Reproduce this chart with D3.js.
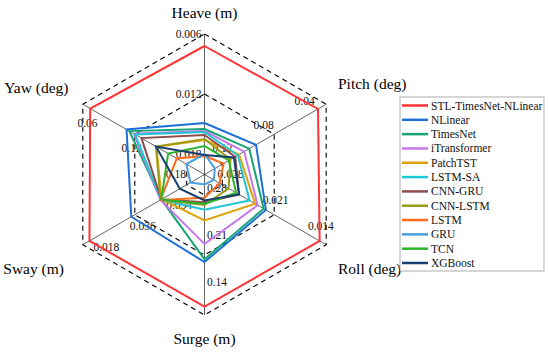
<!DOCTYPE html>
<html>
<head>
<meta charset="utf-8">
<script src="https://cdn.jsdelivr.net/npm/d3@7"></script>
<style>
  html, body { margin: 0; padding: 0; background: #fff; }
  svg text { font-family: "Liberation Serif", "Times New Roman", "DejaVu Serif", serif; }
</style>
</head>
<body>
<svg id="chart" width="550" height="354"></svg>
<script>
// Ejes del radar (sentido horario desde arriba)
const axisNames = ["Heave (m)", "Pitch (deg)", "Roll (deg)", "Surge (m)", "Sway (m)", "Yaw (deg)"];
// Marcas de cada eje: de fuera hacia dentro (escala invertida)
const axisTicks = [
  [0.006, 0.012, 0.018],
  [0.04, 0.08, 0.12],
  [0.014, 0.021, 0.028],
  [0.14, 0.21, 0.28],
  [0.018, 0.036, 0.054],
  [0.06, 0.12, 0.18]
];
const tickLabels = [
  ["0.006", "0.012", "0.018"],
  ["0.04", "0.08", "0.12"],
  ["0.014", "0.021", "0.028"],
  ["0.14", "0.21", "0.28"],
  ["0.018", "0.036", "0.054"],
  ["0.06", "0.12", "0.18"]
];

// Modelos (orden de la leyenda)
const models = ["STL-TimesNet-NLinear", "NLinear", "TimesNet", "iTransformer", "PatchTST", "LSTM-SA",
  "CNN-GRU", "CNN-LSTM", "LSTM", "GRU", "TCN", "XGBoost"];
const modelColors = ["#ff3333", "#1f6fd8", "#17a673", "#c678e8", "#e0a10b", "#1fc6d4",
  "#8e4c4c", "#9c9c15", "#ff6a1a", "#4b9fe0", "#2bb52b", "#173e70"];

// Errores por eje: Heave, Pitch, Roll, Surge, Sway, Yaw
const errSTL          = [0.0072, 0.0463, 0.01488, 0.1497, 0.0203, 0.0685];
const errNLinear      = [0.0149, 0.0940, 0.02212, 0.2018, 0.0348, 0.1105];
const errTimesNet     = [0.0155, 0.0992, 0.02242, 0.2050, 0.0452, 0.1137];
const errITransformer = [0.0157, 0.1031, 0.02323, 0.2229, 0.0449, 0.1189];
const errPatchTST     = [0.0166, 0.1070, 0.02357, 0.2503, 0.0453, 0.1450];
const errLSTMSA       = [0.0158, 0.1080, 0.02432, 0.2627, 0.0451, 0.1205];
const errCNNGRU       = [0.0161, 0.1100, 0.02574, 0.2715, 0.0452, 0.1277];
const errCNNLSTM      = [0.0165, 0.1137, 0.02715, 0.2683, 0.0449, 0.1445];
const errLSTM         = [0.0182, 0.1190, 0.02836, 0.2767, 0.0449, 0.1685];
const errGRU          = [0.0180, 0.1257, 0.02914, 0.2923, 0.0553, 0.1795];
const errTCN          = [0.0172, 0.1150, 0.02613, 0.2695, 0.0452, 0.1585];
const errXGBoost      = [0.0181, 0.1110, 0.02574, 0.2737, 0.0516, 0.1445];
const seriesValues = [errSTL, errNLinear, errTimesNet, errITransformer, errPatchTST, errLSTMSA,
  errCNNGRU, errCNNLSTM, errLSTM, errGRU, errTCN, errXGBoost];

// Geometria
const cx = 204.5, cy = 174.5;
const R_OUT = 140.5, R_IN = 20.5;
const angles = [90, 30, -30, -90, -150, 150].map(a => a * Math.PI / 180);
const FONT = "'Liberation Serif', 'Times New Roman', 'DejaVu Serif', serif";

// Colocacion de las etiquetas de las marcas (como en la figura original)
const tickLabelStyle = [
  {f: 1.0,   dx: -3,    dy: 0,    anchor: "end"},
  {f: 0.79,  dx: 4,     dy: -18,  anchor: "middle"},
  {f: 0.87,  dx: 10.5,  dy: -9.5, anchor: "middle"},
  {f: 0.783, dx: 12.5,  dy: -2.5, anchor: "middle"},
  {f: 0.70,  dx: -13,   dy: 23.6, anchor: "middle"},
  {f: 0.85,  dx: -13.6, dy: 8,    anchor: "middle"}
];
const titleStyle = [
  {x: 0, y: -162.5, anchor: "middle"},
  {x: 133.5, y: -91.5, anchor: "start"},
  {x: 133.5, y: 93.5, anchor: "start"},
  {x: 0, y: 163.5, anchor: "middle"},
  {x: -140.5, y: 93.5, anchor: "end"},
  {x: -136, y: -87.5, anchor: "end"}
];

const svg = d3.select("#chart");
svg.append("rect").attr("width", 550).attr("height", 354).attr("fill", "#fff");
const g = svg.append("g").attr("transform", `translate(${cx},${cy})`);

// Una escala radial por eje
const rScales = axisTicks.map(t => d3.scaleLinear().domain([t[0], t[2]]).range([R_OUT, R_IN]));

const pt = (i, r) => [r * Math.cos(angles[i]), -r * Math.sin(angles[i])];
const lineGen = d3.line().curve(d3.curveLinearClosed);

// Radios
g.selectAll("line.spoke").data(axisNames).join("line")
  .attr("class", "spoke")
  .attr("x1", 0).attr("y1", 0)
  .attr("x2", (d, i) => pt(i, R_OUT)[0])
  .attr("y2", (d, i) => pt(i, R_OUT)[1])
  .attr("stroke", "#222").attr("stroke-width", 0.7);

// Hexagonos discontinuos en cada marca
[0, 1, 2].forEach(k => {
  const poly = axisNames.map((d, i) => pt(i, rScales[i](axisTicks[i][k])));
  g.append("path")
    .attr("d", lineGen(poly))
    .attr("fill", "none")
    .attr("stroke", "#000")
    .attr("stroke-width", 1.1)
    .attr("stroke-dasharray", "5,4");
});

// Etiquetas de las marcas (debajo de las series)
axisTicks.forEach((ticks, i) => {
  const st = tickLabelStyle[i];
  ticks.forEach((t, k) => {
    const p = pt(i, rScales[i](t) * st.f);
    g.append("text")
      .attr("x", p[0] + st.dx)
      .attr("y", p[1] + st.dy)
      .attr("text-anchor", st.anchor)
      .attr("dominant-baseline", "central")
      .attr("font-family", FONT)
      .attr("font-size", 11.5)
      .attr("fill", "#111")
      .text(tickLabels[i][k]);
  });
});

// Series
seriesValues.forEach((vals, s) => {
  const poly = vals.map((v, i) => pt(i, rScales[i](v)));
  g.append("path")
    .attr("d", lineGen(poly))
    .attr("fill", "none")
    .attr("stroke", modelColors[s])
    .attr("stroke-width", 2)
    .attr("stroke-linejoin", "miter");
});

// Titulos de los ejes
axisNames.forEach((name, i) => {
  const st = titleStyle[i];
  g.append("text")
    .attr("x", st.x)
    .attr("y", st.y)
    .attr("text-anchor", st.anchor)
    .attr("dominant-baseline", "central")
    .attr("font-family", FONT)
    .attr("font-size", 15.5)
    .attr("fill", "#000")
    .text(name);
});

// Leyenda
const legend = svg.append("g").attr("transform", "translate(400,97)");
legend.append("rect")
  .attr("width", 144).attr("height", 174)
  .attr("fill", "#fff").attr("stroke", "#999").attr("stroke-width", 0.8);
const legendY = d3.scalePoint().domain(models).range([8.5, 166]);
const items = legend.selectAll("g.item").data(models).join("g")
  .attr("class", "item")
  .attr("transform", d => `translate(0,${legendY(d)})`);
items.append("line")
  .attr("x1", 2).attr("x2", 28)
  .attr("stroke", (d, i) => modelColors[i])
  .attr("stroke-width", 2.5);
items.append("text")
  .attr("x", 31)
  .attr("dominant-baseline", "central")
  .attr("font-family", FONT)
  .attr("font-size", 11.5)
  .attr("fill", "#111")
  .text(d => d);
</script>
</body>
</html>
